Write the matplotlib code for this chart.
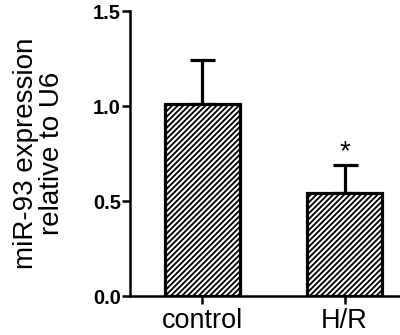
import matplotlib
matplotlib.use("Agg")
import matplotlib.pyplot as plt

# values
groups = ["control", "H/R"]
means = [1.01, 0.54]
errors = [0.23, 0.15]
stars = ["", "*"]
yticks = [0.0, 0.5, 1.0, 1.5]

plt.rcParams["font.family"] = ["Liberation Sans", "DejaVu Sans"]
plt.rcParams["hatch.linewidth"] = 1.3

fig = plt.figure(figsize=(4.0, 3.35), dpi=100)
ax = fig.add_axes([0.325, 0.1164, 0.675, 0.8506])

x = list(range(len(groups)))
ax.bar(x, means, width=0.53, color="white", edgecolor="black",
       linewidth=2.3, hatch="//////", zorder=2)
ax.errorbar(x, means, yerr=[[0] * len(errors), errors], fmt="none",
            ecolor="black", elinewidth=2.3, capsize=9, capthick=2.3, zorder=1)

for xi, m, e, s in zip(x, means, errors, stars):
    if s:
        ax.text(xi, m + e, s, ha="center", va="bottom", fontsize=20)

ax.set_xlim(-0.51, 1.39)
ax.set_ylim(0, 1.5)
ax.set_yticks(yticks)
ax.set_yticklabels([f"{t:.1f}" for t in yticks], fontsize=14.5, fontweight="bold")
ax.set_xticks(x)
ax.set_xticklabels(groups, fontsize=19.5)
ax.set_ylabel("miR-93 expression\nrelative to U6", fontsize=20, linespacing=1.0,
              labelpad=20)

for side in ["top", "right"]:
    ax.spines[side].set_visible(False)
for side in ["left", "bottom"]:
    ax.spines[side].set_linewidth(1.8)
ax.tick_params(axis="both", width=1.8, length=5.5, direction="out")
ax.tick_params(axis="y", pad=1)
ax.tick_params(axis="x", pad=3)

fig.savefig("out.png", dpi=100)
